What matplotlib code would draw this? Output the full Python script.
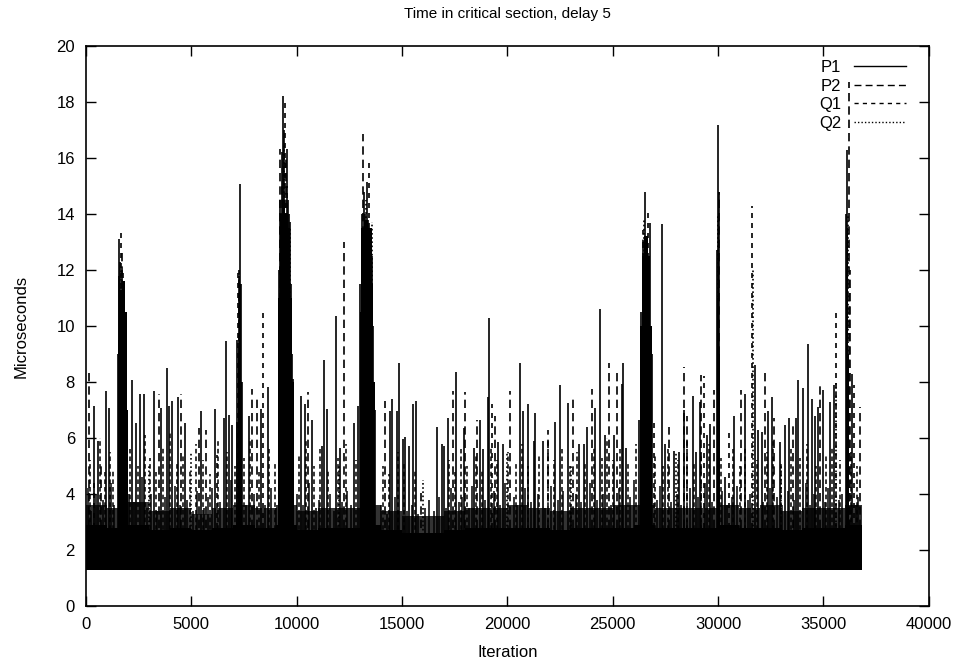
import matplotlib
matplotlib.use("Agg")
import matplotlib.pyplot as plt
from matplotlib.lines import Line2D

plt.rcParams['font.family'] = ['Liberation Sans', 'DejaVu Sans']

title = "Time in critical section, delay 5"
xlabel = "Iteration"
ylabel = "Microseconds"
series_names = ["P1", "P2", "Q1", "Q2"]
baseline_us = 1.35

# ---- P1 (solid) spikes: iteration, microseconds ----
p1_iter = [360, 550, 960, 1080, 1500, 1550, 1580, 1620, 1660, 1720, 1780, 1840, 1900, 1960,
           2180, 2390, 2580, 2740, 3210, 3570, 3860, 3950, 4080, 4350, 4680, 5460, 6100, 6530,
           6640, 6800, 6940, 7150, 7180, 7240, 7310, 7350, 7400, 7730, 8290, 8650,
           9150, 9230, 9300, 9360, 9420, 9520, 9580, 9630, 9680, 9740, 9800, 9840,
           10200, 10390, 10740, 11180, 11310, 11420, 11860, 12050, 12730, 12920,
           13020, 13100, 13200, 13330, 13400, 13480, 13560, 13620, 13700,
           14450, 14530, 14750, 14870, 15030, 15160, 15340, 15530, 15660, 16660, 16880,
           17010, 17200, 17560, 17930, 18400, 18700, 18860, 19070, 19150, 19540, 19780,
           20590, 20720, 20960, 21270, 21320, 21670, 22280, 22510, 22860, 23380, 23620,
           23780, 24160, 24410, 24650, 25080, 25440, 25500, 25630, 26230,
           26350, 26450, 26530, 26600, 26700, 26780, 26850, 27330, 27490, 27890, 28160,
           28360, 28790, 28960, 29120, 29470, 29630, 29950, 30000, 30050, 30310, 30760,
           31270, 31760, 31900, 32060, 32390, 32550, 32940, 33190, 33370, 33700, 33810,
           34020, 34290, 34450, 34600, 34720, 34970, 35320, 35480, 36080, 36130, 36370]
p1_us = [7.14, 5.9, 7.69, 7.08, 9.0, 13.11, 11.8, 12.3, 11.0, 12.0, 11.4, 10.5, 9.2, 7.0,
         8.06, 6.52, 7.57, 7.57, 7.69, 7.08, 8.49, 7.14, 7.32, 7.45, 6.52, 6.95, 7.02, 6.71,
         9.48, 6.83, 6.46, 6.58, 9.5, 11.8, 15.08, 11.5, 8.0, 6.77, 7.02, 7.82,
         12.0, 14.5, 16.2, 18.22, 17.0, 16.31, 14.5, 14.0, 13.73, 11.5, 9.0, 8.12,
         7.51, 7.2, 6.65, 5.72, 8.8, 7.02, 10.34, 5.66, 6.52, 7.14,
         11.5, 14.0, 14.8, 15.14, 13.8, 13.5, 12.5, 10.0, 7.0,
         6.95, 7.38, 6.95, 8.68, 5.97, 6.03, 5.72, 7.2, 7.32, 6.4, 5.78,
         5.72, 6.71, 8.37, 6.34, 5.66, 6.65, 5.6, 7.45, 10.28, 5.85, 5.78,
         8.68, 6.95, 7.2, 5.9, 6.89, 5.9, 6.58, 7.88, 7.26, 5.78, 5.78,
         6.4, 7.08, 10.59, 6.09, 6.09, 7.94, 8.68, 5.66, 6.65,
         10.5, 13.0, 14.77, 13.0, 12.5, 13.67, 9.0, 13.64, 5.78, 5.54, 5.5,
         7.0, 7.5, 5.5, 7.3, 6.1, 6.5, 12.7, 17.18, 14.8, 4.6, 6.77,
         7.57, 8.6, 6.3, 6.2, 6.95, 7.45, 5.85, 6.46, 6.7, 6.7, 8.06,
         7.8, 9.36, 7.38, 6.8, 7.1, 7.7, 7.3, 7.9, 14.0, 16.3, 8.3]

# ---- P2 (dashed) spikes ----
p2_iter = [150, 700, 1700, 1760, 1820, 1880, 3450, 4520, 5340, 5700, 7280, 7860, 8100,
           9200, 9300, 9480, 9600, 10520, 12250, 13140, 13250, 13500, 14170, 15900, 17400,
           18000, 18560, 19430, 20140, 21910, 23130, 24000, 24810, 25200, 26420, 26550,
           27650, 28390, 28520, 29170, 29820, 30030, 31110, 32240, 32670, 33540, 34840,
           36200, 36250, 36750]
p2_us = [8.5, 5.0, 12.6, 11.5, 11.0, 9.0, 7.57, 7.57, 6.34, 6.28, 12.0, 7.75, 7.45,
         16.31, 15.0, 16.0, 13.0, 7.63, 12.99, 16.87, 14.0, 13.0, 7.32, 4.06, 7.69,
         7.63, 6.65, 6.77, 7.69, 6.28, 7.45, 7.75, 8.68, 8.37, 13.42, 12.5,
         6.4, 8.55, 6.77, 8.25, 7.7, 14.8, 7.7, 8.37, 6.7, 6.58, 8.0,
         18.7, 12.0, 7.1]

# ---- Q1 (short dashes) spikes ----
q1_iter = [400, 1680, 1740, 1800, 6210, 7230, 8380, 9440, 9560, 13440, 13520, 19260,
           26660, 26970, 29310, 30520, 31620, 35590, 36450]
q1_us = [4.5, 13.5, 12.0, 11.5, 5.41, 12.06, 10.65, 18.1, 15.0, 15.82, 13.0, 7.2,
         14.04, 6.71, 8.2, 6.2, 14.3, 10.65, 7.9]

# ---- Q2 (dotted) spikes ----
q2_iter = [1650, 1900, 3000, 5000, 7300, 9400, 9700, 12000, 13300, 13570, 16000, 20000,
           23000, 26500, 26700, 28000, 30000, 31650, 33000, 35600, 36150]
q2_us = [12.0, 10.0, 5.0, 5.5, 11.5, 16.5, 13.5, 5.0, 14.5, 13.73, 4.5, 5.5,
         5.0, 13.8, 12.0, 5.5, 14.0, 12.0, 5.0, 8.0, 14.0]

# ---- dense bursts: start, end iteration and the level they fill solidly ----
burst_start = [1500, 1560, 1700, 1840, 1940,
               7200, 7260, 7360,
               9130, 9200, 9300, 9450, 9600, 9700, 9800,
               12990, 13060, 13200, 13400, 13560, 13640,
               26300, 26380, 26500, 26650, 26780,
               29940, 29980, 30040,
               36070, 36110, 36170]
burst_end = [1560, 1700, 1840, 1940, 2000,
             7260, 7360, 7420,
             9200, 9300, 9450, 9600, 9700, 9800, 9850,
             13060, 13200, 13400, 13560, 13640, 13720,
             26380, 26500, 26650, 26780, 26860,
             29980, 30040, 30080,
             36110, 36170, 36210]
burst_level_us = [9.5, 11.3, 11.6, 10.5, 7.0,
                  9.0, 11.5, 8.0,
                  11.0, 14.0, 14.5, 14.0, 13.5, 11.0, 8.0,
                  10.5, 13.5, 13.8, 13.5, 11.5, 8.0,
                  10.0, 12.5, 13.2, 12.5, 10.0,
                  11.0, 12.5, 9.0,
                  12.0, 13.5, 9.0]

# ---- minor spikes (3-6 us) ----
minor_iter = [100, 250, 480, 820, 1200, 1350, 2050, 2300, 2650, 2900, 3100, 3350, 3750,
              4200, 4450, 4800, 5100, 5250, 5600, 5800, 6000, 6350, 6900, 7600, 7950,
              8500, 8800, 9000, 10000, 10300, 10600, 10900, 11050, 11600, 11750, 12150,
              12400, 12600, 14000, 14300, 14650, 15250, 15450, 15750, 16100, 16300, 16500,
              16750, 17100, 17300, 17700, 17850, 18200, 18300, 18950, 19350, 19650, 19900,
              20300, 20450, 20850, 21100, 21450, 21800, 22050, 22400, 22650, 23000, 23250,
              23500, 23900, 24250, 24550, 24900, 25300, 25800, 26000, 27100, 27250, 27750,
              28050, 28250, 28650, 29050, 29400, 29700, 30200, 30400, 30650, 30900, 31400,
              31500, 32150, 32450, 32800, 33050, 33300, 33600, 34150, 34350, 34550, 35050,
              35200, 35750, 35900, 36550, 36650]
minor_us = [4.2, 3.4, 4.0, 3.8, 4.4, 3.6, 4.0, 3.7, 4.6, 3.5, 4.0, 3.4, 3.9,
            4.3, 3.6, 3.8, 3.4, 4.1, 3.5, 3.9, 4.2, 3.7, 4.5, 3.6, 4.0,
            3.6, 4.2, 3.5, 4.0, 3.6, 4.4, 3.5, 3.8, 4.0, 3.4, 3.7,
            4.1, 3.6, 3.6, 3.3, 3.9, 3.4, 3.6, 3.3, 3.5, 3.8, 3.4,
            3.9, 3.5, 4.2, 3.7, 3.9, 3.5, 4.3, 3.8, 4.1, 3.6, 4.4,
            3.9, 3.6, 4.2, 3.7, 4.0, 3.5, 4.3, 3.8, 4.1, 3.6, 4.0,
            3.7, 4.4, 3.8, 4.0, 3.6, 4.2, 3.9, 4.5, 3.8, 4.3, 3.7,
            4.0, 3.6, 4.2, 3.9, 4.4, 3.7, 4.1, 3.6, 3.9, 4.3, 3.8,
            4.0, 3.7, 4.2, 3.9, 3.6, 4.1, 3.8, 4.4, 3.6, 4.0, 3.7,
            4.2, 3.8, 4.0, 3.6, 3.9]
mid_iter = [200, 650, 900, 1150, 1300, 2100, 2450, 2800, 3050, 3300, 3650, 4000, 4300,
            4600, 4950, 5200, 5550, 5900, 6250, 6700, 7050, 7500, 7800, 8200, 8700,
            8950, 10100, 10450, 10800, 11100, 11500, 11950, 12350, 12800, 14100, 14400,
            14800, 15100, 15600, 17250, 17500, 17800, 18100, 18500, 18800, 19200, 19500,
            20050, 20400, 20700, 21000, 21500, 21950, 22200, 22600, 22950, 23300, 23700,
            24100, 24500, 24750, 25000, 25350, 25700, 26100, 27000, 27400, 27600, 28100,
            28500, 28850, 29200, 29550, 30150, 30700, 31050, 31300, 31850, 32300, 32600,
            33000, 33450, 33900, 34200, 34650, 35100, 35400, 35800, 36300, 36600]
mid_us = [5.2, 6.0, 4.8, 5.5, 4.9, 5.6, 5.0, 6.1, 5.3, 4.8, 5.7, 6.2, 5.1,
          5.4, 4.9, 5.8, 5.2, 4.7, 5.9, 5.5, 5.0, 5.3, 6.0, 4.8, 5.6,
          5.1, 5.4, 5.9, 5.0, 5.6, 4.9, 5.3, 5.8, 5.2, 5.0, 4.7,
          5.5, 5.1, 4.9, 5.2, 4.8, 5.6, 5.0, 5.4, 4.9, 5.7, 5.2,
          5.5, 5.1, 5.8, 5.0, 5.4, 5.9, 5.2, 5.6, 5.0, 5.5, 5.1,
          5.7, 5.3, 6.0, 5.2, 5.6, 5.1, 5.8, 5.4, 5.0, 5.6, 5.2,
          5.9, 5.1, 5.5, 5.8, 5.3, 5.6, 5.0, 5.7, 5.2, 5.5, 5.9,
          5.1, 5.6, 5.3, 5.8, 5.0, 5.4, 5.7, 5.2, 5.5, 5.0]

# ---- dense band envelope, every 1000 iterations ----
band_iter = [0, 1000, 2000, 3000, 4000, 5000, 6000, 7000, 8000, 9000, 10000, 11000, 12000,
             13000, 14000, 15000, 16000, 17000, 18000, 19000, 20000, 21000, 22000, 23000,
             24000, 25000, 26000, 27000, 28000, 29000, 30000, 31000, 32000, 33000, 34000,
             35000, 36000, 36850]
band_top_us = [2.9, 2.8, 2.9, 2.7, 2.8, 2.7, 2.8, 2.9, 2.8, 2.9, 2.7, 2.8, 2.8,
               2.9, 2.7, 2.6, 2.6, 2.7, 2.8, 2.8, 2.8, 2.8, 2.7, 2.8,
               2.8, 2.8, 2.9, 2.8, 2.8, 2.8, 2.9, 2.8, 2.8, 2.7, 2.8,
               2.8, 2.9, 2.9]
band_haze_us = [3.6, 3.5, 3.7, 3.4, 3.5, 3.3, 3.5, 3.6, 3.5, 3.6, 3.4, 3.5, 3.5,
                3.6, 3.4, 3.2, 3.2, 3.4, 3.5, 3.5, 3.6, 3.5, 3.4, 3.5,
                3.5, 3.6, 3.6, 3.5, 3.5, 3.5, 3.6, 3.5, 3.6, 3.4, 3.5,
                3.5, 3.6, 3.6]

styles = ['-', (0, (5, 3)), (0, (3, 3)), (0, (1, 1.5))]

fig = plt.figure(figsize=(9.61, 6.62), dpi=100)
ax = fig.add_axes([0.0895, 0.0846, 0.877, 0.846])

ax.fill_between(band_iter, baseline_us, band_haze_us, step='post', color='0.2', lw=0)
ax.fill_between(band_iter, baseline_us - 0.07, band_top_us, step='post', color='black', lw=0)
ax.bar(burst_start, [h - baseline_us for h in burst_level_us],
       width=[e - s for s, e in zip(burst_start, burst_end)],
       bottom=baseline_us, align='edge', color='black', lw=0)
ax.vlines(minor_iter, baseline_us, minor_us, colors='black', linewidth=1.1)
ax.vlines(mid_iter, baseline_us, mid_us, colors='black', linewidth=1.1,
          linestyles=[(0, (3, 2))])

for xs, ys, ls in [(p1_iter, p1_us, styles[0]), (p2_iter, p2_us, styles[1]),
                   (q1_iter, q1_us, styles[2]), (q2_iter, q2_us, styles[3])]:
    ax.vlines(xs, baseline_us, ys, colors='black', linestyles=[ls], linewidth=1.2)

ax.set_xlim(0, 40000)
ax.set_ylim(0, 20)
ax.set_xticks(range(0, 40001, 5000))
ax.set_yticks(range(0, 21, 2))
ax.tick_params(direction='in', length=7, width=1, top=True, right=True, labelsize=12,
               pad=8, colors='black')
for s in ax.spines.values():
    s.set_linewidth(1.2)

ax.set_title(title, fontsize=11, pad=20)
ax.set_xlabel(xlabel, fontsize=12, labelpad=9)
ax.set_ylabel(ylabel, fontsize=12, labelpad=20)

handles = [Line2D([0], [0], color='black', lw=1, linestyle=ls) for ls in styles]
ax.legend(handles, series_names, loc='upper right', frameon=False, markerfirst=False,
          fontsize=12, handlelength=3.1, handletextpad=0.8, labelspacing=0.22,
          borderaxespad=0.1, bbox_to_anchor=(0.983, 0.99))

fig.savefig("out.png", dpi=100)
